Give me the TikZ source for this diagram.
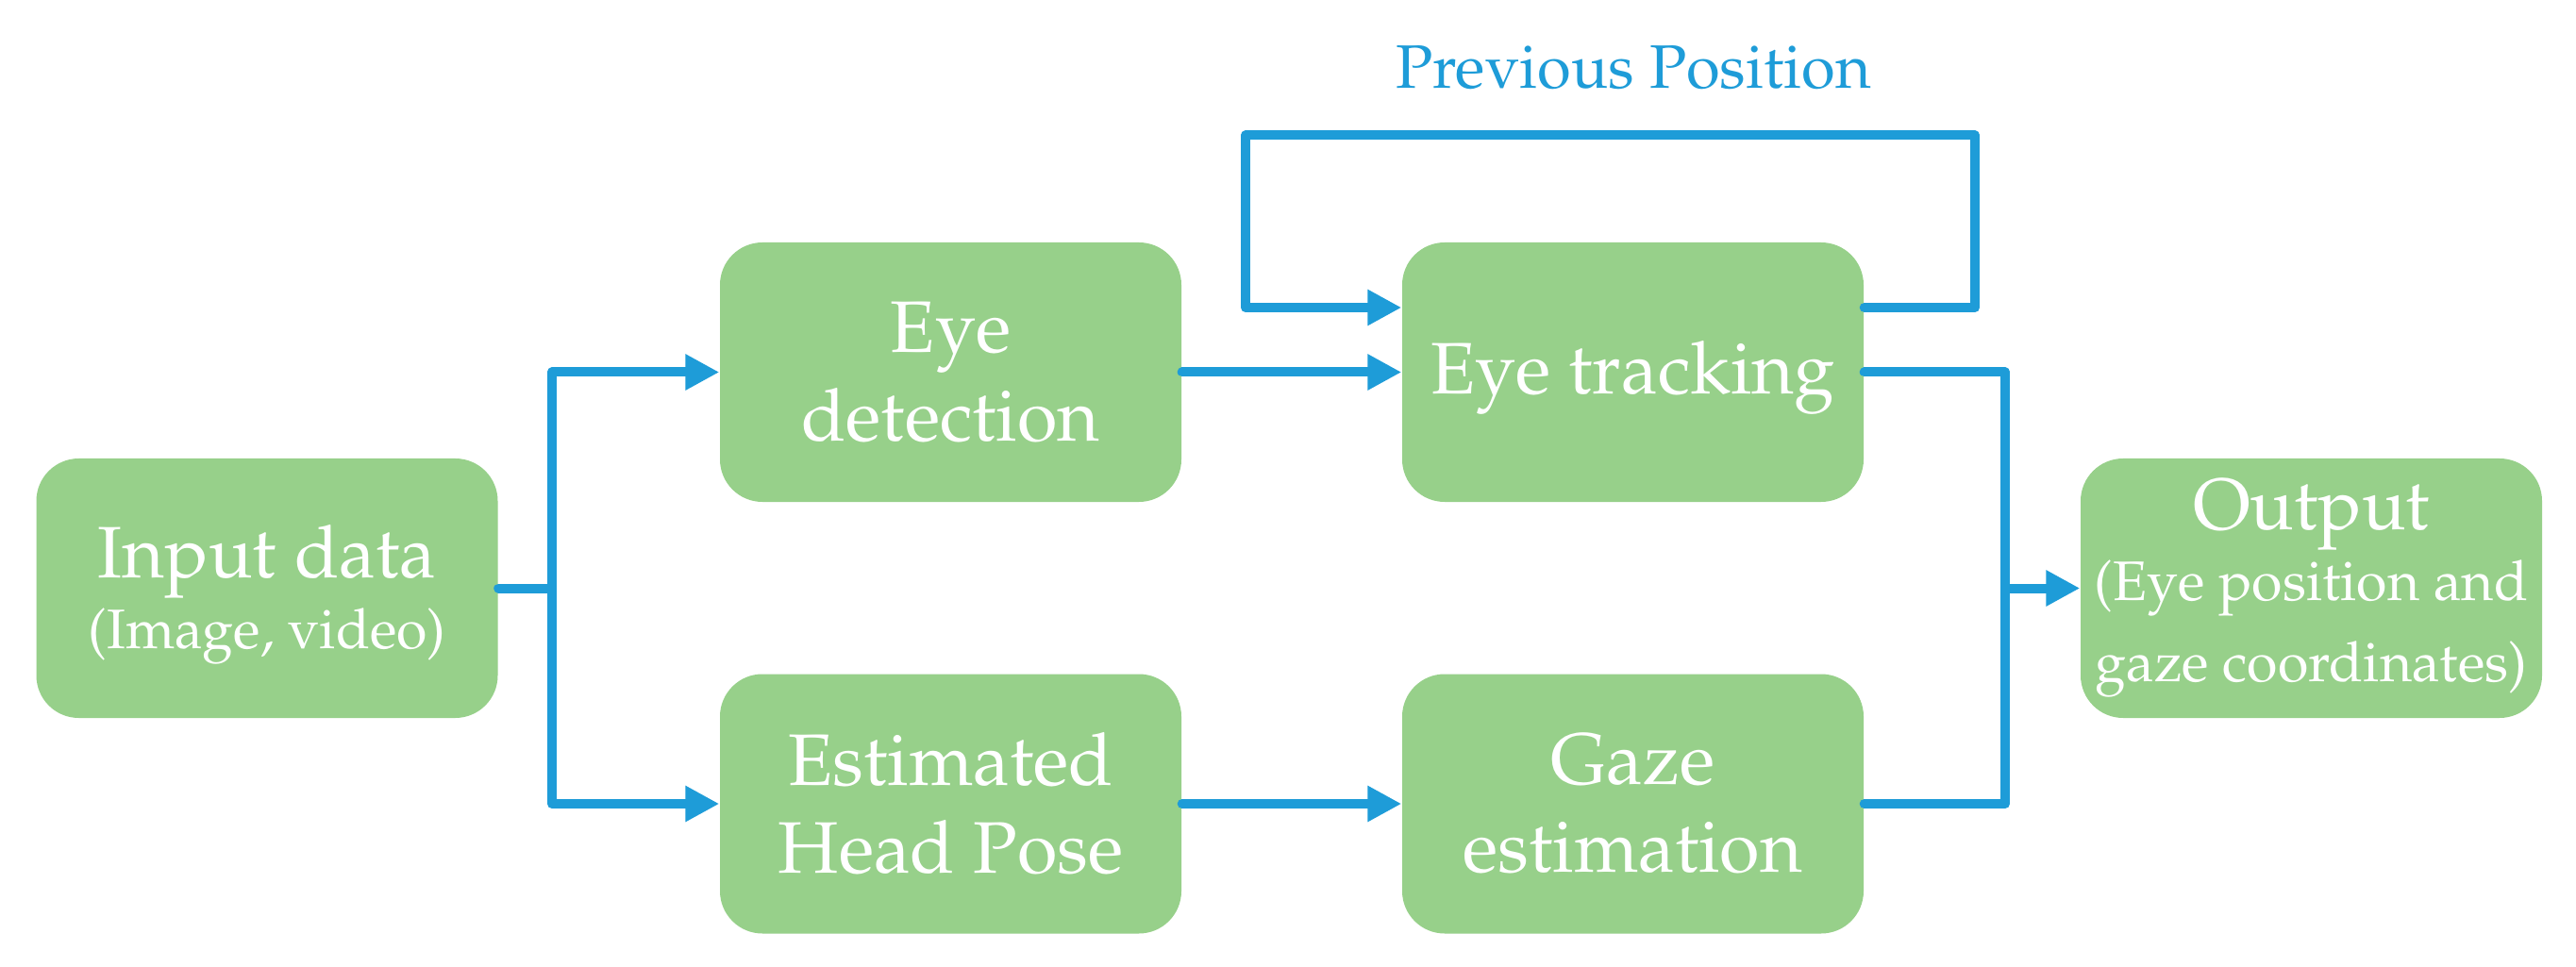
\documentclass[tikz,border=0pt]{standalone}
\usepackage[T1]{fontenc}
\usepackage{mathpazo}
\usetikzlibrary{arrows.meta}
\definecolor{boxgreen}{RGB}{151,208,138}
\definecolor{lineblue}{RGB}{30,156,216}
\newcommand\smalltxt{\fontsize{16.8}{20}\selectfont}
\begin{document}
\begin{tikzpicture}[
    box/.style={rectangle,rounded corners=0.45cm,fill=boxgreen,text=white,
      minimum width=4.89cm,minimum height=2.75cm,align=center,inner sep=0pt,
      font=\fontsize{22}{26.5}\selectfont},
    flow/.style={lineblue,line width=0.1cm,line cap=round,line join=round},
    flowarrow/.style={flow,-{Triangle[length=0.36cm,width=0.36cm]}}
  ]
    \useasboundingbox (0,0) rectangle (27.3,10.24);

    \node[box] (input) at (2.83,4.005) {\rule{0pt}{20pt}Input data\\[-5.2pt]{\smalltxt (Image, video)}};
    \node[box] (eyedet) at (10.075,6.295) {Eye\\detection};
    \node[box] (headpose) at (10.075,1.72) {Estimated\\Head Pose};
    \node[box,text height=19.5pt] (tracking) at (17.305,6.295) {Eye tracking};
    \node[box] (gaze) at (17.305,1.72) {Gaze\\estimation};
    \node[box] (output) at (24.495,4.005) {Output\\[-5.2pt]{\smalltxt (Eye position and}\\[-2pt]{\smalltxt gaze coordinates)}};

    % Split
    \coordinate (split) at (5.85,4.005);
    \draw[flow] (input.east) -- (split);
    \draw[flowarrow] (split) |- (eyedet.west);
    \draw[flowarrow] (split) |- (headpose.west);

    \draw[flowarrow] (eyedet.east) -- (tracking.west);
    \draw[flowarrow] (headpose.east) -- (gaze.west);

    % Feedback
    \coordinate (loopR) at (20.93,8.805);
    \coordinate (loopL) at (13.20,8.805);
    \draw[flowarrow] ([yshift=6.85mm]tracking.east) -| (loopR) -- (loopL) |- ([yshift=6.85mm]tracking.west);
    \node[lineblue,anchor=base,font=\fontsize{18.5}{22}\selectfont] (prevpos) at (17.31,9.30) {Previous Position};

    % Merge
    \coordinate (merge) at (21.25,4.005);
    \draw[flow] (tracking.east) -| (merge);
    \draw[flow] (gaze.east) -| (merge);
    \draw[flowarrow] (merge) -- (output.west);
\end{tikzpicture}
\end{document}
